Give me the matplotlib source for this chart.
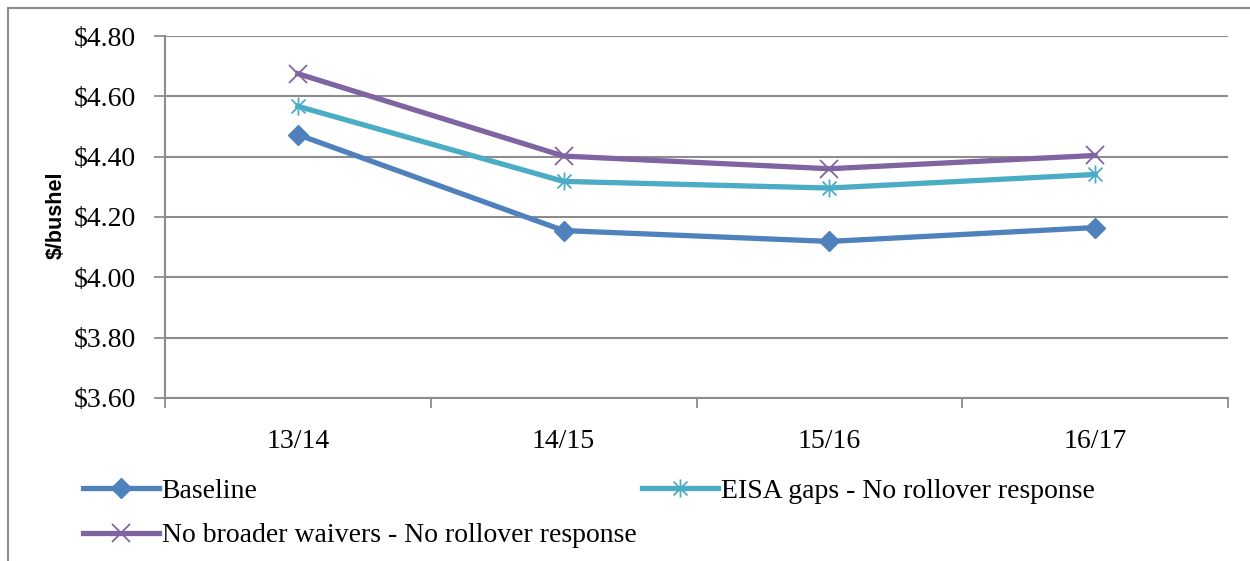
import matplotlib
matplotlib.use("Agg")
import matplotlib.pyplot as plt
from matplotlib.path import Path
from matplotlib.patches import Rectangle
from matplotlib.ticker import FixedLocator, FuncFormatter

seasons = ["13/14", "14/15", "15/16", "16/17"]
baseline = [4.473, 4.155, 4.119, 4.165]
eisa_gaps = [4.567, 4.318, 4.296, 4.341]
no_waivers = [4.675, 4.402, 4.360, 4.404]

series_names = ["Baseline",
                "EISA gaps - No rollover response",
                "No broader waivers - No rollover response"]

plt.rcParams['font.family'] = ['Liberation Serif', 'DejaVu Serif']

# excel style "star" marker: an x with a vertical bar through it
star_verts = [(-1, -1), (1, 1), (-1, 1), (1, -1), (0, -1.3), (0, 1.3)]
star_codes = [Path.MOVETO, Path.LINETO] * 3
star = Path(star_verts, star_codes)

fig = plt.figure(figsize=(12.5, 5.61), dpi=100)
fig.patch.set_facecolor('white')
ax = fig.add_axes([0.132, 0.2906, 0.8504, 0.6452])

x = list(range(len(seasons)))
h1, = ax.plot(x, baseline, color='#4F81BD', lw=3.8, marker='D', ms=10,
              label=series_names[0])
h2, = ax.plot(x, eisa_gaps, color='#4BACC6', lw=3.8, marker=star, ms=13,
              mew=1.3, label=series_names[1])
h3, = ax.plot(x, no_waivers, color='#8064A2', lw=3.8, marker='x', ms=13,
              mew=1.3, label=series_names[2])

ax.set_xlim(-0.5, len(seasons) - 0.5)
ax.set_ylim(3.6, 4.8)
ax.set_yticks([3.6 + 0.2 * i for i in range(7)])
ax.yaxis.set_major_formatter(FuncFormatter(lambda v, p: "${:.2f}".format(v)))
ax.yaxis.grid(True, color='#8C8C8C', lw=1.5)
ax.set_axisbelow(True)

ax.xaxis.set_major_locator(FixedLocator([i - 0.5 for i in range(len(seasons) + 1)]))
ax.xaxis.set_minor_locator(FixedLocator(x))
ax.set_xticklabels([])
ax.set_xticklabels(seasons, minor=True)
ax.tick_params(axis='x', which='major', length=7, width=1.3, color='#8C8C8C')
ax.tick_params(axis='x', which='minor', length=0, pad=22, labelsize=20)
ax.tick_params(axis='y', length=8, width=1.3, color='#8C8C8C', labelsize=20, pad=13)

for s in ['top', 'right']:
    ax.spines[s].set_visible(False)
for s in ['left', 'bottom']:
    ax.spines[s].set_color('#8C8C8C')
    ax.spines[s].set_linewidth(1.5)

fig.text(0.045, 0.617, "$/bushel", rotation=90, ha='center', va='center',
         fontsize=15.5, fontweight='bold', family=['Liberation Sans', 'DejaVu Sans'])

fig.legend(handles=[h1, h3, h2], loc='upper left', bbox_to_anchor=(0.066, 0.147),
           ncol=2, frameon=False, fontsize=20, handlelength=2.75,
           handletextpad=0.1, columnspacing=0.2, borderpad=0, labelspacing=0.68,
           borderaxespad=0)

# chart area border
fig.patches.append(Rectangle((8 / 1250, -0.1), 1.1, 1 - 8 / 561 + 0.1,
                             transform=fig.transFigure, fill=False,
                             edgecolor='#8C8C8C', lw=1.5))

fig.savefig('out.png', dpi=100, facecolor='white')
